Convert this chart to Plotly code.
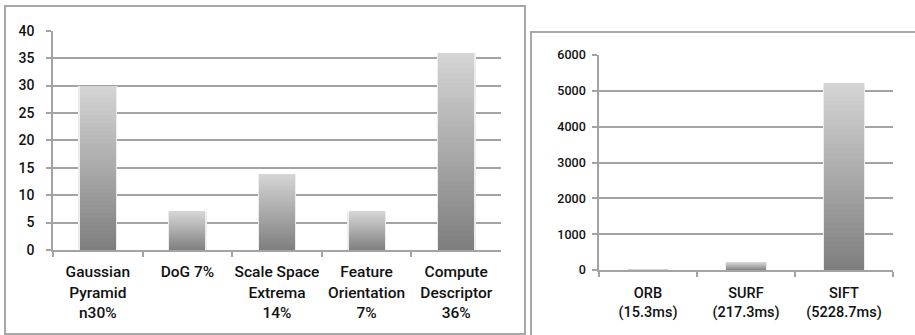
import plotly.graph_objects as go

# ---- data ----
left_categories = ["Gaussian<br>Pyramid<br>n30%", "DoG 7%", "Scale Space<br>Extrema<br>14%",
                   "Feature<br>Orientation<br>7%", "Compute<br>Descriptor<br>36%"]
left_values = [30, 7, 14, 7, 36]
left_ticks = [0, 5, 10, 15, 20, 25, 30, 35, 40]

right_categories = ["ORB<br>(15.3ms)", "SURF<br>(217.3ms)", "SIFT<br>(5228.7ms)"]
right_values = [15.3, 217.3, 5228.7]
right_ticks = [0, 1000, 2000, 3000, 4000, 5000, 6000]

FONT = "Roboto, Liberation Sans, Arial, sans-serif"
GRID = "#a3a3a3"
N = 40
DARK, LIGHT = 126, 213


def shade(t):
    v = int(round(DARK + (LIGHT - DARK) * t))
    return f"rgb({v},{v},{v})"


fig = go.Figure()


def add_gradient_bars(cats, vals, xa, ya, width):
    # soft halo behind each bar
    fig.add_trace(go.Bar(
        x=cats, y=vals, xaxis=xa, yaxis=ya, width=width + 0.035,
        marker=dict(color="rgb(236,236,236)", line=dict(width=0)),
        showlegend=False, hoverinfo="skip"))
    for k in range(N):
        fig.add_trace(go.Bar(
            x=cats, y=[v / N for v in vals], base=[v * k / N for v in vals],
            xaxis=xa, yaxis=ya, width=width,
            marker=dict(color=shade((k + 0.5) / N), line=dict(width=0)),
            showlegend=False, hoverinfo="skip"))


add_gradient_bars(left_categories, left_values, "x", "y", 0.4)
add_gradient_bars(right_categories, right_values, "x2", "y2", 0.4)

axis_common = dict(showline=True, linecolor=GRID, linewidth=1.5, ticks="outside",
                   tickcolor=GRID, tickwidth=1.5, ticklen=5, color="#111111",
                   automargin=False)

fig.update_layout(
    width=915, height=335, margin=dict(l=0, r=0, t=0, b=0),
    paper_bgcolor="white", plot_bgcolor="white", barmode="overlay",
    bargap=0, showlegend=False,
    font=dict(family=FONT, color="#111111", weight=500),
    xaxis=dict(domain=[53 / 915, 501 / 915], anchor="y", type="category",
               categoryorder="array", categoryarray=left_categories,
               tickson="boundaries", showgrid=False, tickfont=dict(size=15.5, weight=500),
               tickangle=0, ticklabelstandoff=7, range=[-0.5, 4.5], **axis_common),
    yaxis=dict(domain=[1 - 250 / 335, 1 - 30.7 / 335], anchor="x", range=[0, 40],
               tickvals=left_ticks, showgrid=True, gridcolor=GRID, gridwidth=1.5,
               zeroline=False, tickfont=dict(size=14, weight=500), ticklabelstandoff=9,
               **axis_common),
    xaxis2=dict(domain=[599 / 915, 893 / 915], anchor="y2", type="category",
                categoryorder="array", categoryarray=right_categories,
                tickson="boundaries", showgrid=False, tickfont=dict(size=14.5, weight=500),
                tickangle=0, ticklabelstandoff=9, range=[-0.5, 2.5], **axis_common),
    yaxis2=dict(domain=[1 - 270 / 335, 1 - 55 / 335], anchor="x2", range=[0, 6000],
                tickvals=right_ticks, showgrid=True, gridcolor=GRID, gridwidth=1.5,
                zeroline=False, tickfont=dict(size=12.5, weight=500), ticklabelstandoff=4,
                **axis_common),
    shapes=[
        dict(type="rect", xref="paper", yref="paper", x0=5 / 915, x1=525 / 915,
             y0=1 - 334 / 335, y1=1 - 6 / 335, line=dict(color="#a8a8a8", width=2),
             layer="below"),
        dict(type="rect", xref="paper", yref="paper", x0=531 / 915, x1=1.01,
             y0=-0.05, y1=1 - 32 / 335, line=dict(color="#a8a8a8", width=2),
             layer="below"),
    ],
)

fig.write_html("out.html")
